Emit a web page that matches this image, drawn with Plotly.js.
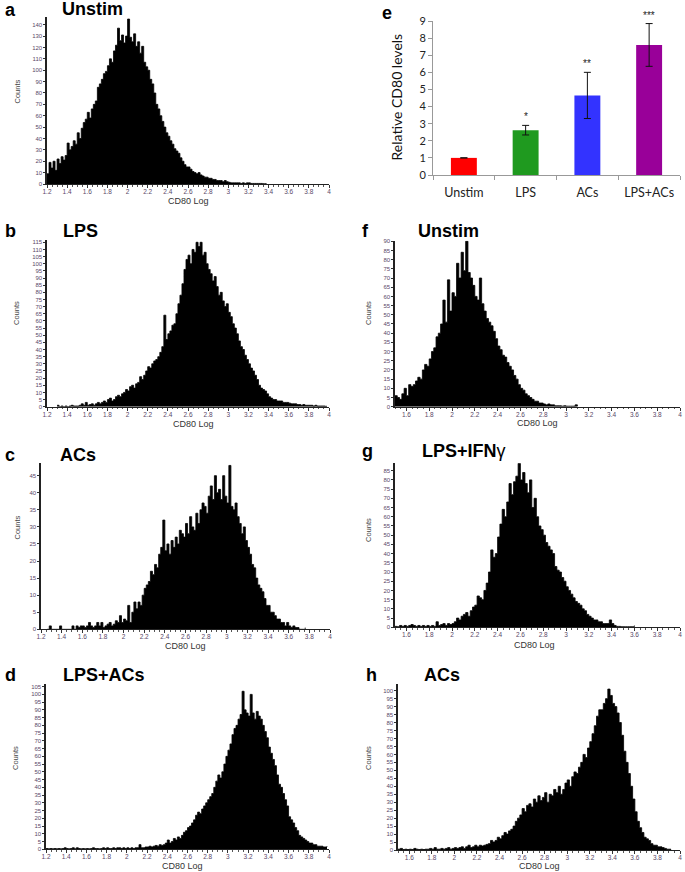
<!DOCTYPE html>
<html><head><meta charset="utf-8">
<script src="https://cdn.plot.ly/plotly-3.0.1.min.js"></script>
<style>html,body{margin:0;padding:0;background:#fff;}#chart{width:685px;height:872px;}</style>
</head><body><div id="chart"></div>
<script>
// ---------- DATA ----------
const binWidth = 0.02;
// Panel a: Unstim (bins start 1.20)
const startA = 1.20;
const countsA = [
 9,19,14,20,12,22,18,24,21,25,
 36,30,33,38,35,45,40,49,54,57,
 63,58,66,70,73,85,88,92,97,99,
 104,110,107,117,122,137,126,131,124,130,
 145,129,125,132,121,125,115,121,107,103,
 100,92,88,80,70,66,60,55,50,45,
 42,38,35,31,29,27,23,20,17,15,
 15,13,11,10,9,10,8,7,6,6,
 5,5,4,4,3,3,3,2,3,2,
 1.5,1,1,1,1,1,0.5,1,0.5,1,
 1,0.5,0.5,0.5,0.5,0.5,0.5,0.3,0.3,0.3
];
// Panel b: LPS (bins start 1.30)
const startB = 1.30;
const countsB = [
 1,0,0.5,0,0.5,0,0.5,1,0.5,0.5,
 0.5,1,2,1,3,1,1.5,2,1,2,
 3,2,3,4,3,5,6,4,5,7,
 8,7,9,10,12,11,14,15,13,16,
 17,21,19,22,25,28,27,30,32,33,
 35,38,42,64,47,51,53,57,58,65,
 72,78,86,96,103,106,100,110,108,115,
 112,115,106,108,100,96,93,88,91,84,
 78,80,74,70,72,66,63,58,55,51,
 46,42,40,36,33,30,27,25,22,19,
 15,13,12,11,9,7,6,5,5,4,
 4,4,3,3,3,2.5,2,2,2,1.5,
 1.5,1,1.5,1,1,1,1,0.5,1,0.5,
 0.5,0.5,0.5,0.3,0.3
];
// Panel c: ACs (bins start 1.26)
const startC = 1.26;
const countsC = [
 0,1,0,0,0,0,1,0,0,0,
 0,0,1,0,1,0.5,1,1,0.5,1,
 2,1,0.5,1,2,1,2,0.5,1,1.5,
 2,1,1.5,2.5,2,4,2,3,2.5,7,
 2,5,8,6,8,7,10,12,13,14,
 17,16,19,18,22,24,32,23,25,22,
 26,24,27,25,29,28,27,31,28,33,
 30,29,34,31,35,37,36,34,39,42,
 38,45,40,41,38,45,39,37,48,36,
 35,37,33,31,28,30,26,24,22,19,
 18,15,13,12,11,9,7,7,5,5,
 4,3,3,2,2,1,2,1,0.5,1,
 0.5,0.5,0,0,0,0.5
];
// Panel d: LPS+ACs (bins start 1.20)
const startD = 1.20;
const countsD = [
 0.5,0.3,0.5,0.3,0.5,0.3,0.5,0.3,0.5,1,
 0.5,0.3,0.5,1,0.3,1,0.5,0.3,0.5,0.3,
 0.5,0.3,0.5,1,0.5,0.5,0.3,0.5,1,0.5,
 1,0.5,0.5,1,0.5,1,1,0.5,1,0.5,
 1,0.5,1,0.5,1,1,3,1,1,1.5,
 1.5,2,1.5,2,2.5,2,3,2.5,3,4,
 6,4,5,7,6,8,7,9,11,12,
 14,15,17,19,22,24,23,26,28,30,
 32,34,36,40,44,48,46,50,55,60,
 64,68,74,78,80,84,87,102,90,88,
 86,100,88,84,89,86,84,80,76,72,
 66,62,58,54,48,42,40,36,32,28,
 21,19,17,14,12,9,8,7,6,5,
 4,4,3,3,2,2,2,1.5,1.5,2
];
// Panel f: Unstim (bins start 1.50)
const startF = 1.50;
const countsF = [
 6,5,4,7,10,6,12,11,12,14,
 16,15,20,23,22,26,30,32,38,40,
 45,58,46,69,52,62,60,78,70,84,
 74,90,73,70,66,60,58,70,56,52,
 48,46,44,41,37,33,31,28,27,24,
 22,20,17,15,12,10,9,7,6,5,
 4,3,3,2,2,1.5,1,1.5,1,1,
 0.5,0.5,0.5,0.3,0.5,0.3,0.3,0.3,0.3,1,
 0.3
];
// Panel g: LPS+IFNγ (bins start 1.50)
const startG = 1.50;
const countsG = [
 0.5,0.3,1,0.5,1,0.5,1,1.5,1,0.5,
 1,0.5,1,0.5,1,0.5,1,0.5,3,1,
 1.5,2,1,2,1.5,2,3,5,4,6,
 7,8,6,9,11,12,17,16,15,20,
 24,30,42,38,40,49,56,64,60,68,
 78,72,79,82,89,80,84,78,73,80,
 65,70,60,55,53,50,46,44,42,40,
 33,31,30,27,25,22,20,18,16,14,
 13,12,10,9,7,6,5,4,4,3,
 3,2,2,2,4,2,1,0.5,0.5,0.3,
 0.3,0.3,0.3,0.3,0.3,1
];
// Panel h: ACs (bins start 1.50)
const startH = 1.50;
const countsH = [
 0.5,1,0.3,0.5,0.3,0.5,0.3,1,0.5,0.3,
 0.5,0.3,0.5,0.5,1,0.5,1.5,0.5,0.5,1,
 0.5,1,1.5,0.5,1,1.5,1,1.5,2,1,
 2,3,1.5,2,3,2,3,2.5,3,3.5,
 4,6,5,6,8,7,9,11,10,12,
 13,15,18,20,22,26,24,28,29,27,
 32,30,34,31,33,36,30,35,34,38,
 36,40,35,38,42,44,40,46,49,48,
 52,55,60,58,64,68,73,78,84,88,
 88,92,95,101,97,92,90,86,80,72,
 62,55,48,40,32,24,18,14,11,8,
 7,6,4,3,3,2,2,1.5,1,0.5,
 0.5,0.3
];
// Panel e: relative CD80 levels
const eCategories = ['Unstim','LPS','ACs','LPS+ACs'];
const eValues = [1.0, 2.62, 4.65, 7.6];
const eErrors = [null, 0.28, 1.35, 1.25];
const eStars = ['', '*', '**', '***'];
const eColors = ['#ff0000','#1f9a1f','#3333ff','#990099'];

const panelLetters = ['a','b','c','d','e','f','g','h'];
const panelNames = ['Unstim','LPS','ACs','LPS+ACs','','Unstim','LPS+IFN<span style="font-weight:normal">γ</span>','ACs'];
const xTitle = 'CD80 Log';
const yTitle = 'Counts';
const eYTitle = 'Relative CD80 levels';

// ---------- LAYOUT ----------
const W = 685, H = 872;
const fx = p => p / W;
const fy = p => 1 - p / H;

const hist = [
 {y: countsA, start: startA, px:[47,329], py:[17,184],     xr:[1.2,4], yr:[0,146.8], dy:10, t0:1.2, cnt:[16.5,92],  xl:[188,201]},
 {y: countsB, start: startB, px:[47,329], py:[240,406.7],  xr:[1.2,4], yr:[0,116.6], dy:5,  t0:1.2, cnt:[16,313],   xl:[193,423.5]},
 {y: countsC, start: startC, px:[41,330], py:[462.7,629.3],xr:[1.2,4], yr:[0,48.8],  dy:5,  t0:1.2, cnt:[16.5,528], xl:[185,646]},
 {y: countsD, start: startD, px:[46,329], py:[684,849.3],  xr:[1.2,4], yr:[0,106.7], dy:5,  t0:1.2, cnt:[15,758],   xl:[183,866]},
 {y: countsF, start: startF, px:[395,680],py:[240.7,406.7],xr:[1.5,4], yr:[0,90.3],  dy:5,  t0:1.6, cnt:[368,313],  xl:[537,423]},
 {y: countsG, start: startG, px:[395,680],py:[463.3,627.3],xr:[1.5,4], yr:[0,89],    dy:5,  t0:1.6, cnt:[368,530],  xl:[534,645]},
 {y: countsH, start: startH, px:[398,680],py:[684.3,850],  xr:[1.5,4], yr:[0,104],   dy:5,  t0:1.6, cnt:[368,758],  xl:[539,866]},
];

const traces = [];
const layout = {
  width: W, height: H, margin:{l:0,r:0,t:0,b:0},
  paper_bgcolor:'#fff', plot_bgcolor:'rgba(0,0,0,0)',
  showlegend:false,
  font:{family:'Liberation Sans, Arial, sans-serif', color:'#222'},
  annotations: []
};

const tickCol = '#5a4868';
hist.forEach((p, i) => {
  const n = i + 1;
  const sfx = n === 1 ? '' : String(n);
  const xs = p.y.map((_, k) => +(p.start + k * binWidth).toFixed(3));
  traces.push({
    type:'scatter', mode:'lines', x: xs, y: p.y,
    line:{shape:'hv', color:'#000', width:0.8}, fill:'tozeroy', fillcolor:'#000',
    xaxis: 'x' + sfx, yaxis: 'y' + sfx, hoverinfo:'skip'
  });
  layout['xaxis' + sfx] = {
    domain:[fx(p.px[0]), fx(p.px[1])], range:p.xr, anchor:'y' + sfx,
    tickmode:'linear', tick0:p.t0, dtick:0.2, ticks:'outside', ticklen:3, tickwidth:1, tickcolor:'#333',
    minor:{ticks:'outside', ticklen:1.5, dtick:0.05, tickcolor:'#555', tickwidth:1},
    ticklabelstandoff:-2,
    showline:true, linecolor:'#222', linewidth:1, showgrid:false, zeroline:false,
    tickfont:{size:6.5, color:tickCol}, fixedrange:true
  };
  layout['yaxis' + sfx] = {
    domain:[fy(p.py[1]), fy(p.py[0])], range:p.yr, anchor:'x' + sfx,
    tickmode:'linear', tick0:0, dtick:p.dy, ticks:'outside', ticklen:2, tickwidth:1, tickcolor:'#333',
    showline:true, linecolor:'#222', linewidth:1.6, showgrid:false, zeroline:false,
    tickfont:{size:6, color:tickCol}, fixedrange:true
  };
  layout.annotations.push({xref:'paper', yref:'paper', x:fx(p.cnt[0]), y:fy(p.cnt[1]), text:yTitle,
    textangle:-90, showarrow:false, font:{size:7.5, color:'#444'}, xanchor:'center', yanchor:'middle'});
  layout.annotations.push({xref:'paper', yref:'paper', x:fx(p.xl[0]), y:fy(p.xl[1]), text:xTitle,
    showarrow:false, font:{size:9, color:'#333'}, xanchor:'center', yanchor:'middle'});
});

// Panel e bar chart
traces.push({
  type:'bar', x:eCategories, y:eValues, width:0.42,
  marker:{color:eColors, line:{width:0}},
  error_y:{type:'data', array:eErrors, visible:true, color:'#111', thickness:1, width:3.5},
  xaxis:'x8', yaxis:'y8', hoverinfo:'skip'
});
layout.xaxis8 = {
  domain:[fx(433), fx(680)], anchor:'y8', type:'category', range:[-0.5,3.5],
  showline:true, linecolor:'#999', linewidth:1, ticks:'outside', tickson:'boundaries', ticklen:4, tickcolor:'#999',
  ticklabelstandoff:6,
  showgrid:false, zeroline:false, tickfont:{family:'Lato, sans-serif', size:12.5, color:'#222'}, fixedrange:true
};
layout.yaxis8 = {
  domain:[fy(175), fy(21)], anchor:'x8', range:[0,9], tickmode:'linear', tick0:0, dtick:1,
  showline:true, linecolor:'#999', linewidth:1, ticks:'outside', ticklen:4, tickcolor:'#999',
  showgrid:false, zeroline:false, tickfont:{family:'Lato, sans-serif', size:11, color:'#222'}, fixedrange:true
};
layout.annotations.push({xref:'paper', yref:'paper', x:fx(396.5), y:fy(97), text:eYTitle, textangle:-90,
  showarrow:false, font:{family:'Lato, sans-serif', size:14, color:'#111'}, xanchor:'center', yanchor:'middle'});
eCategories.forEach((c, k) => {
  if (!eStars[k]) return;
  layout.annotations.push({xref:'x8', yref:'y8', x:c, y:eValues[k] + eErrors[k], text:eStars[k],
    showarrow:false, yanchor:'bottom', yshift:1, font:{size:10, color:'#222'}});
});

// Panel letters & titles
const letterPos = [[3,10],[3,231],[3,455],[3,675],[380,13],[360,231],[360,451],[364,675]];
const namePos = [[60,9],[61,231],[58,455],[61,675],null,[416,231],[420,451],[422,675]];
panelLetters.forEach((L, k) => {
  layout.annotations.push({xref:'paper', yref:'paper', x:fx(letterPos[k][0]), y:fy(letterPos[k][1]),
    text:'<b>' + L + '</b>', showarrow:false, xanchor:'left', yanchor:'middle', font:{size:18, color:'#000'}});
  if (namePos[k]) {
    layout.annotations.push({xref:'paper', yref:'paper', x:fx(namePos[k][0]), y:fy(namePos[k][1]),
      text:'<b>' + panelNames[k] + '</b>', showarrow:false, xanchor:'left', yanchor:'middle', font:{size:18, color:'#000'}});
  }
});

Plotly.newPlot('chart', traces, layout, {staticPlot:true, displayModeBar:false});
</script>
</body></html>
